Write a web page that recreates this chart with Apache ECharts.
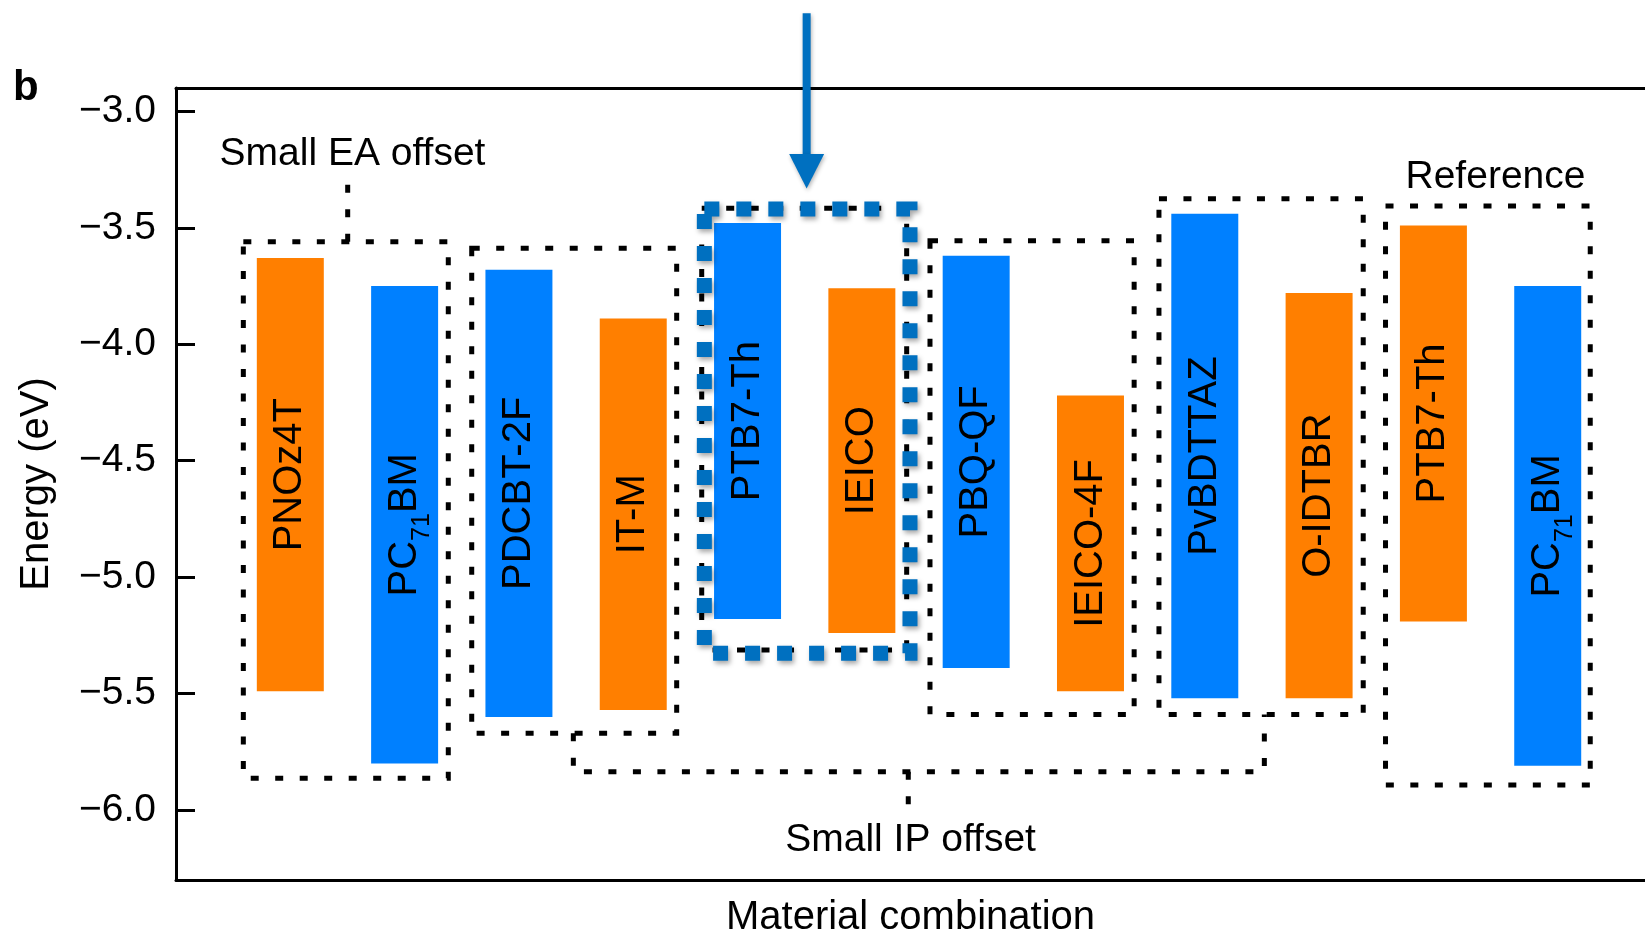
<!DOCTYPE html>
<html><head><meta charset="utf-8">
<script src="https://cdn.jsdelivr.net/npm/echarts@6/dist/echarts.min.js"></script>
<style>html,body{margin:0;padding:0;background:#fff}#c{width:1645px;height:933px}</style>
</head><body><div id="c"></div>
<script>
// ---- data ----
const materials = ['PNOz4T','PC71BM','PDCBT-2F','IT-M','PTB7-Th','IEICO','PBQ-QF','IEICO-4F','PvBDTTAZ','O-IDTBR','PTB7-Th','PC71BM'];
const eaLevels = [-3.63,-3.75,-3.68,-3.89,-3.48,-3.76,-3.62,-4.22,-3.44,-3.78,-3.49,-3.75];
const ipLevels = [-5.49,-5.80,-5.60,-5.57,-5.18,-5.24,-5.39,-5.49,-5.52,-5.52,-5.19,-5.81];
const colorGroup = [0,1,1,0,1,0,1,0,1,0,0,1];
const yTicks = [-6.0,-5.5,-5.0,-4.5,-4.0,-3.5,-3.0];

// ---- styles / annotation geometry (data units) ----
const palette = ['#FF7F00', '#0080FF'];
const FONT = '"Liberation Sans", Arial, Helvetica, sans-serif';
const blackBoxes = [
  [0.589, 2.382, -3.560, -5.863],
  [2.587, 4.380, -3.588, -5.670],
  [4.599, 6.392, -3.416, -5.313],
  [6.596, 8.382, -3.556, -5.589],
  [8.599, 10.386, -3.375, -5.589],
  [10.581, 12.372, -3.407, -5.892]
];
const blueBox = [4.622, 6.421, -3.419, -5.327];
const eaConnector = [[1.502, -3.560], [1.502, -3.312]];
const ipBracket = [[3.476, -5.670], [3.476, -5.835], [9.521, -5.835], [9.521, -5.589]];
const ipStem = [[6.406, -5.835], [6.406, -5.987]];
const arrow = {x: 5.517, yTop: -2.579, yBase: -3.183, yTip: -3.331, half: 0.153};
const notes = [
  {text: 'Small EA offset', x: 1.544, y: -3.186},
  {text: 'Small IP offset', x: 6.426, y: -6.131},
  {text: 'Reference', x: 11.543, y: -3.285}
];

function labelText(name) {
  return name.replace('C71', 'C{s|71}');
}

const hiddenAxisParts = {axisTick: {show: false}, axisLabel: {show: false}, splitLine: {show: false}};
const chart = echarts.init(document.getElementById('c'), null, {renderer: 'canvas'});
chart.setOption({
  animation: false,
  backgroundColor: '#fff',
  grid: {left: 176, right: 0, top: 88, bottom: 53, show: false, containLabel: false, outerBoundsMode: 'none'},
  xAxis: [{
    type: 'value', min: 0, max: 12.851, position: 'bottom',
    axisLine: {show: true, onZero: false, lineStyle: {color: '#000', width: 3}}, ...hiddenAxisParts,
    name: 'Material combination', nameLocation: 'middle', nameGap: 18,
    nameTextStyle: {fontSize: 40, color: '#000', fontFamily: FONT}
  }, {
    type: 'value', min: 0, max: 12.851, position: 'top',
    axisLine: {show: true, onZero: false, lineStyle: {color: '#000', width: 3}}, ...hiddenAxisParts
  }],
  yAxis: {
    type: 'value', min: -6.3, max: -2.9,
    axisLine: {show: true, onZero: false, lineStyle: {color: '#000', width: 3}},
    axisTick: {show: true, inside: true, length: 19, customValues: yTicks, lineStyle: {color: '#000', width: 3}},
    axisLabel: {show: true, customValues: yTicks, margin: 20, fontSize: 39, color: '#000', fontFamily: FONT,
      formatter: v => (v < 0 ? '\u2212' : '') + Math.abs(v).toFixed(1)},
    splitLine: {show: false},
    name: 'Energy (eV)', nameLocation: 'middle', nameGap: 119,
    nameTextStyle: {fontSize: 40, color: '#000', fontFamily: FONT}
  },
  graphic: [{
    type: 'text', left: 13, top: 67,
    style: {text: 'b', fontSize: 42, fontWeight: 'bold', fill: '#000', fontFamily: FONT}
  }],
  series: [{
    type: 'custom',
    z: 2,
    silent: true,
    data: materials.map((m, i) => [i + 1, ipLevels[i], eaLevels[i]]),
    encode: {x: 0, y: [1, 2]},
    renderItem: (params, api) => {
      const i = params.dataIndex;
      const x = api.value(0);
      const pTop = api.coord([x, api.value(2)]);
      const pBot = api.coord([x, api.value(1)]);
      const w = api.size([1, 0])[0] * 0.586;
      return {
        type: 'rect',
        shape: {x: pTop[0] - w / 2, y: pTop[1], width: w, height: pBot[1] - pTop[1]},
        style: {fill: palette[colorGroup[i]]},
        textContent: {
          style: {
            text: labelText(materials[i]), fontSize: 40, fontFamily: FONT, fill: '#000', lineHeight: 60,
            rich: {s: {fontSize: 25, lineHeight: 25, verticalAlign: 'bottom', fontFamily: FONT, fill: '#000'}}
          }
        },
        textConfig: {position: 'inside', rotation: Math.PI / 2}
      };
    }
  }, {
    type: 'custom',
    z: 5,
    silent: true,
    clip: false,
    data: [[1, -4]],
    encode: {x: 0, y: 1},
    renderItem: (params, api) => {
      const P = (x, y) => api.coord([x, y]);
      const children = [];
      const dotted = {stroke: '#000', lineWidth: 5, lineDash: [8, 16.5], fill: null};
      blackBoxes.forEach(b => {
        const a = P(b[0], b[2]), c = P(b[1], b[3]);
        children.push({type: 'rect', shape: {x: a[0], y: a[1], width: c[0] - a[0], height: c[1] - a[1]}, style: dotted});
      });
      [eaConnector, ipBracket, ipStem].forEach(pts => {
        children.push({type: 'polyline', shape: {points: pts.map(p => P(p[0], p[1]))}, style: dotted});
      });
      const ba = P(blueBox[0], blueBox[2]), bc = P(blueBox[1], blueBox[3]);
      children.push({type: 'rect', shape: {x: ba[0], y: ba[1], width: bc[0] - ba[0], height: bc[1] - ba[1]},
        style: {stroke: '#0070C0', lineWidth: 15, lineDash: [15, 17], fill: null,
          shadowBlur: 5, shadowColor: 'rgba(0,0,0,0.35)', shadowOffsetX: 2, shadowOffsetY: 3}});
      const t = P(arrow.x, arrow.yTop), b = P(arrow.x, arrow.yBase), tip = P(arrow.x, arrow.yTip);
      const l = P(arrow.x - arrow.half, arrow.yBase), r = P(arrow.x + arrow.half, arrow.yBase);
      children.push({type: 'line', shape: {x1: t[0], y1: t[1], x2: b[0], y2: b[1] + 2},
        style: {stroke: '#0070C0', lineWidth: 8, shadowBlur: 4, shadowColor: 'rgba(0,0,0,0.3)', shadowOffsetX: 1, shadowOffsetY: 2}});
      children.push({type: 'polygon', shape: {points: [l, r, tip]},
        style: {fill: '#0070C0', shadowBlur: 4, shadowColor: 'rgba(0,0,0,0.3)', shadowOffsetX: 1, shadowOffsetY: 2}});
      notes.forEach(n => {
        const p = P(n.x, n.y);
        children.push({type: 'text', x: p[0], y: p[1],
          style: {text: n.text, fontSize: 39, fontFamily: FONT, fill: '#000', align: 'center', verticalAlign: 'middle'}});
      });
      return {type: 'group', children};
    }
  }]
});
</script>
</body></html>
